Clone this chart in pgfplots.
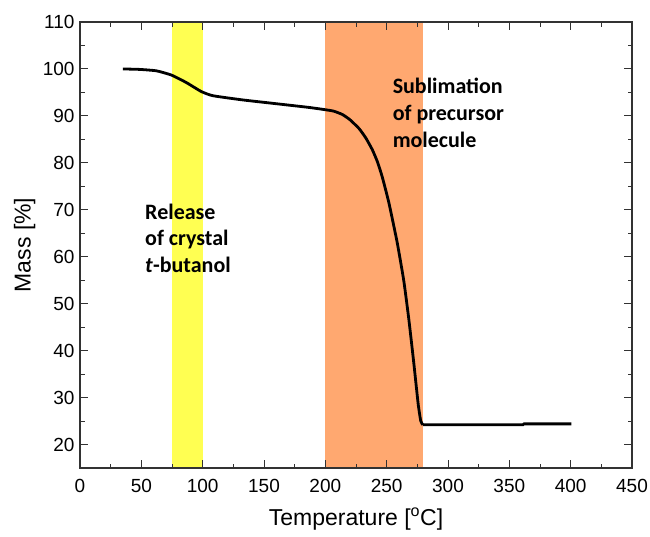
\documentclass[border=0pt]{standalone}
\usepackage{pgfplots}
\pgfplotsset{compat=1.18}
\usepackage{fontspec}
\setmainfont{Liberation Sans}
\newfontfamily\annfont{Carlito}
\definecolor{bandyellow}{RGB}{255,255,82}
\definecolor{bandorange}{RGB}{255,168,112}
\definecolor{axisgray}{RGB}{50,50,50}
\begin{document}
\begin{tikzpicture}
\path[use as bounding box] (-80pt,-68pt) rectangle (570pt,468pt);
\begin{axis}[
  at={(0pt,0pt)}, anchor=south west,
  scale only axis, width=552pt, height=446pt,
  xmin=0, xmax=450, ymin=15, ymax=110,
  xtick={0,50,...,450}, ytick={20,30,...,110},
  minor x tick num=1, minor y tick num=1,
  tick align=inside,
  major tick length=8pt, minor tick length=4.5pt,
  every tick/.style={axisgray, line width=1pt},
  axis line style={axisgray, line width=1.2pt},
  axis on top,
  /pgf/number format/assume math mode=true,
  tick label style={font=\fontsize{19}{22}\selectfont},
  xticklabel style={yshift=-8pt},
  yticklabel style={xshift=-2pt},
  xlabel={Temperature [\textsuperscript{o}C]},
  ylabel={Mass [\%]},
  label style={font=\fontsize{23}{26}\selectfont},
  xlabel style={at={(axis description cs:0.5,-0.114)}, anchor=center},
  ylabel style={at={(axis description cs:-0.1,0.5)}, anchor=center},
]
\addplot[draw=none, fill=bandyellow] coordinates {(75,15) (75,110) (100,110) (100,15)} -- cycle;
\addplot[draw=none, fill=bandorange] coordinates {(200,15) (200,110) (280,110) (280,15)} -- cycle;
\addplot[black, line width=2.8pt, smooth, tension=0.3] coordinates {
(35,100.0) (48.7,99.9) (62.3,99.6) (74.5,98.7) (86.7,97.1) (98.8,95.2)
(108.3,94.3) (132.7,93.4) (159.8,92.6) (186.8,91.8) (200.4,91.3)
(207,91.0) (213.9,90.3) (220,89.2) (227.5,87.3) (233,85.3) (238.3,82.8)
(242.5,80.2) (246.4,77.0) (251.8,71.5)
(258.6,63.0) (264,54.8) (268.1,46.6) (272.1,37.4) (275.7,28.6)
(277.8,25.0) (279.5,24.2)
};
\addplot[black, line width=2.8pt] coordinates {
(279.5,24.2) (361,24.2) (362,24.4) (400.5,24.4)
};
\node[anchor=north west, align=left, inner sep=0pt,
      font=\annfont\bfseries\fontsize{22}{26.5}\selectfont]
  at (axis cs:53,71.3) {Release\\of crystal\\\textit{t}-butanol};
\node[anchor=north west, align=left, inner sep=0pt,
      font=\annfont\bfseries\fontsize{22}{27}\selectfont]
  at (axis cs:254.8,98.2) {Sublimation\\of precursor\\molecule};
\end{axis}
\end{tikzpicture}
\end{document}
